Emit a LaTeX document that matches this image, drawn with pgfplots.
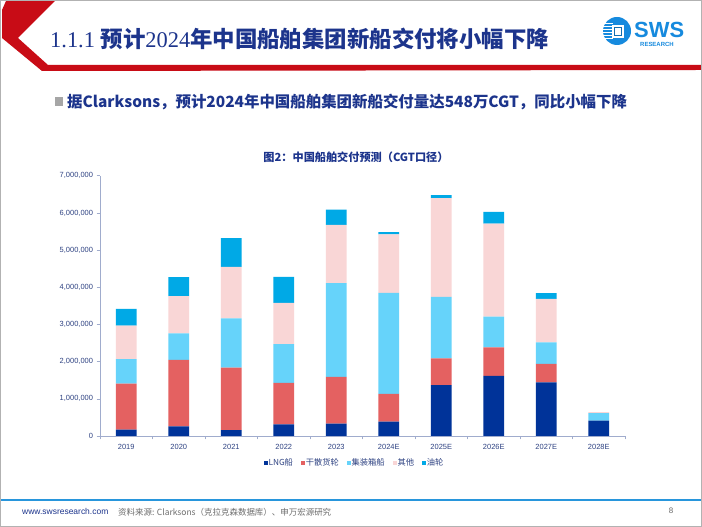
\documentclass[border=0pt]{standalone}
\usepackage{fontspec}
\setmainfont{Liberation Sans}
\newfontfamily\cjk{Noto Sans CJK SC}
\newfontfamily\tnr{Liberation Serif}
\usepackage{pgfplots}
\pgfplotsset{compat=1.18}
\definecolor{lng}{RGB}{0,51,153}
\definecolor{bulk}{RGB}{228,97,97}
\definecolor{cont}{RGB}{102,211,250}
\definecolor{other}{RGB}{249,214,214}
\definecolor{tank}{RGB}{0,169,230}
\definecolor{titc}{RGB}{28,52,140}
\definecolor{tickc}{RGB}{46,66,130}
\definecolor{axisc}{RGB}{160,172,205}
\definecolor{slred}{RGB}{200,12,22}
\definecolor{logob}{RGB}{22,138,222}
\definecolor{footb}{RGB}{40,150,220}
\begin{document}
\begin{tikzpicture}[x=1bp,y=1bp]
\fill[white] (0,0) rectangle (702,527);
\useasboundingbox (0,0) rectangle (702,527);
% header chevron and band
\fill[slred] (6,526) -- (55,526) -- (18,489) -- (48,462) -- (702,462) -- (702,457) -- (42,456) -- (2,489) -- (2,517) -- cycle;
\node[anchor=west, text=titc, inner sep=0] at (50,488) {\fontsize{22.5}{25}\selectfont\tnr 1.1.1 \cjk\bfseries 预计\tnr\mdseries 2024\cjk\bfseries 年中国船舶集团新船交付将小幅下降};
% logo
\fill[logob] (617,496) circle (14);
\foreach \yy in {488,491,494,497,500,503} {\fill[white] (602,\yy) rectangle (613,\yy+1.2);}
\fill[white] (612,489) rectangle (624,502);
\fill[logob!80!black] (614,491) rectangle (622,500);
\fill[white] (615,492) rectangle (621,499);
\node[anchor=base west, inner sep=0, text=logob] at (634,489) {\fontsize{22}{24}\selectfont\bfseries SWS};
\node[anchor=base west, inner sep=0, text=logob] at (640,480) {\fontsize{6}{6}\selectfont\bfseries RESEARCH};
% subtitle
\fill[gray!70] (55,421) rectangle (63,430);
\node[anchor=west, text=titc, inner sep=0] at (67,425) {\cjk\bfseries\fontsize{15.5}{18}\selectfont 据Clarksons，预计2024年中国船舶集团新船交付量达548万CGT，同比小幅下降};
% chart title
\node[text=titc, inner sep=0] at (356,370) {\cjk\bfseries\fontsize{11.2}{13}\selectfont 图2：中国船舶交付预测（CGT口径）};
% footer
\draw[footb, line width=1.5bp] (0,27) -- (702,27);
\node[anchor=west, inner sep=0, text=titc] at (22,16) {\fontsize{8.5}{10}\selectfont www.swsresearch.com};
\node[anchor=west, inner sep=0, text=gray!85!black] at (118,15) {\cjk\fontsize{8.5}{10}\selectfont 资料来源: Clarksons（克拉克森数据库）、申万宏源研究};
\node[inner sep=0, text=gray!80!black] at (671,16) {\fontsize{8}{10}\selectfont 8};
\draw[gray!60, line width=1bp] (0.5,0.5) rectangle (701.5,526.5);
\begin{axis}[
  at={(100bp,91bp)}, anchor=south west,
  scale only axis, width=525bp, height=260.3bp,
  xmin=-0.5, xmax=9.5, ymin=0, ymax=7000000,
  ybar stacked, bar width=20.6bp,
  axis x line=bottom, axis y line=left,
  axis line style={draw=axisc, -, line width=0.8bp},
  tick style={draw=axisc, line width=0.6bp},
  tick align=outside,
  major tick length=3.5bp, minor tick length=3.5bp,
  xtick={0,...,9},
  major x tick style={draw=none},
  minor xtick={-0.5,0.5,1.5,2.5,3.5,4.5,5.5,6.5,7.5,8.5,9.5},
  xticklabels={2019,2020,2021,2022,2023,2024E,2025E,2026E,2027E,2028E},
  ytick={0,1000000,2000000,3000000,4000000,5000000,6000000,7000000},
  scaled y ticks=false,
  yticklabel style={/pgf/number format/.cd, fixed, 1000 sep={,}, assume math mode=true},
  ticklabel style={font=\fontsize{7.5}{8}\selectfont, text=tickc},
  xticklabel style={yshift=-1bp},
  legend style={at={(0.484,-0.104)}, anchor=center, draw=none, fill=none,
    font=\cjk\fontsize{8.3}{9}\selectfont, text=tickc, nodes={inner sep=1bp},
    /tikz/every even column/.append style={column sep=7bp}},
  legend columns=5,
  legend image code/.code={\fill[#1] (0bp,-1.9bp) rectangle (3.8bp,1.9bp);},
]
\addplot[fill=lng, draw=none] coordinates {(0,170000) (1,260000) (2,160000) (3,310000) (4,330000) (5,385000) (6,1370000) (7,1620000) (8,1440000) (9,415000)};
\addplot[fill=bulk, draw=none] coordinates {(0,1240000) (1,1790000) (2,1680000) (3,1120000) (4,1260000) (5,745000) (6,720000) (7,760000) (8,500000) (9,0)};
\addplot[fill=cont, draw=none] coordinates {(0,660000) (1,710000) (2,1320000) (3,1040000) (4,2520000) (5,2720000) (6,1650000) (7,830000) (8,580000) (9,200000)};
\addplot[fill=other, draw=none] coordinates {(0,900000) (1,1000000) (2,1390000) (3,1110000) (4,1570000) (5,1570000) (6,2660000) (7,2500000) (8,1170000) (9,30000)};
\addplot[fill=tank, draw=none] coordinates {(0,450000) (1,510000) (2,770000) (3,700000) (4,410000) (5,60000) (6,80000) (7,320000) (8,150000) (9,0)};
\legend{LNG船, 干散货轮, 集装箱船, 其他, 油轮}
\end{axis}
\end{tikzpicture}
\end{document}
